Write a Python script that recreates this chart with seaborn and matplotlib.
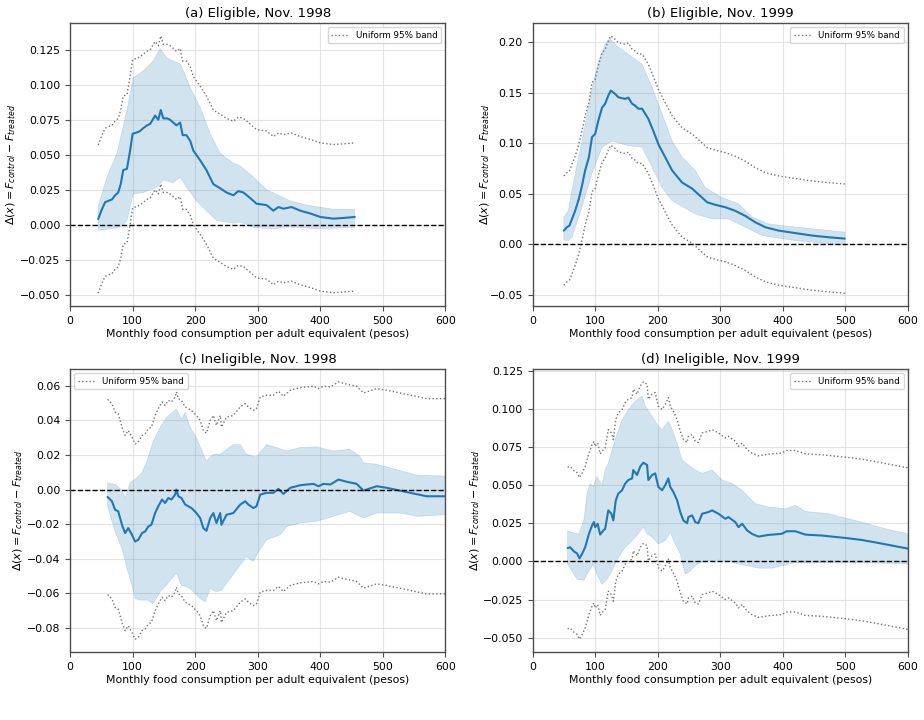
import numpy as np
import matplotlib
matplotlib.use("Agg")
import matplotlib.pyplot as plt
import seaborn as sns

# ---------------- data ----------------
titles = ["(a) Eligible, Nov. 1998", "(b) Eligible, Nov. 1999",
          "(c) Ineligible, Nov. 1998", "(d) Ineligible, Nov. 1999"]
legend_loc = ["upper right", "upper right", "upper left", "upper right"]
xlabel = "Monthly food consumption per adult equivalent (pesos)"
ylabel = r"$\Delta(x) = F_{control} - F_{treated}$"

# Panel (a)
a_x = [45, 50, 56, 61, 67, 72, 77, 81, 85, 91, 96, 100, 107, 112, 117, 123, 128, 136, 141, 145,
       149, 155, 160, 165, 170, 176, 180, 186, 192, 197, 208, 218, 229, 240, 250, 261, 269, 277, 288, 298,
       314, 325, 333, 341, 354, 368, 384, 400, 421, 437, 455]
a_y = [0.004, 0.010, 0.016, 0.017, 0.018, 0.021, 0.023, 0.029, 0.039, 0.040, 0.053, 0.065, 0.066, 0.067, 0.069, 0.071, 0.072, 0.078, 0.075, 0.082,
       0.076, 0.076, 0.075, 0.073, 0.071, 0.073, 0.064, 0.064, 0.060, 0.053, 0.046, 0.039, 0.029, 0.026, 0.023, 0.021, 0.024, 0.023, 0.019, 0.015,
       0.014, 0.010, 0.0126, 0.0114, 0.0126, 0.010, 0.008, 0.0055, 0.0043, 0.0048, 0.0055]
a_up_x = [45, 59, 75, 91, 101, 117, 133, 144, 155, 176, 181, 192, 208, 224, 240, 261, 272, 293, 314, 352, 378, 421, 455]
a_up_y = [0.013, 0.034, 0.051, 0.082, 0.105, 0.110, 0.117, 0.126, 0.119, 0.115, 0.110, 0.098, 0.084, 0.065, 0.051, 0.044, 0.042, 0.034, 0.025, 0.017, 0.014, 0.011, 0.011]
a_lo_x = [45, 64, 80, 91, 101, 117, 139, 149, 165, 176, 186, 202, 218, 234, 261, 272, 293, 325, 341, 367, 394, 455]
a_lo_y = [-0.004, -0.003, -0.002, 0.003, 0.022, 0.023, 0.027, 0.032, 0.030, 0.034, 0.027, 0.017, 0.010, 0.003, 0.001, 0.002, -0.002, -0.003, -0.002, -0.002, -0.003, -0.002]
a_uniform_hw = 0.053

# Panel (b)
b_x = [50, 55, 59, 63, 68, 74, 79, 84, 90, 95, 100, 105, 111, 116, 121, 125, 132, 137, 148, 153,
       159, 164, 169, 175, 180, 185, 193, 201, 212, 223, 239, 255, 271, 279, 292, 308, 324, 340, 356, 372,
       393, 420, 446, 473, 499]
b_y = [0.0135, 0.0168, 0.0185, 0.025, 0.033, 0.045, 0.058, 0.073, 0.086, 0.106, 0.109, 0.122, 0.135, 0.139, 0.147, 0.152, 0.1486, 0.1453, 0.1437, 0.145,
       0.139, 0.137, 0.134, 0.134, 0.129, 0.124, 0.112, 0.099, 0.086, 0.073, 0.061, 0.055, 0.046, 0.0415, 0.039, 0.0366, 0.033, 0.028, 0.0217, 0.0168,
       0.0135, 0.011, 0.0086, 0.0069, 0.0056]
b_up_x = [50, 57, 68, 79, 92, 105, 116, 124, 137, 153, 175, 191, 207, 223, 239, 260, 276, 303, 329, 351, 377, 420, 499]
b_up_y = [0.027, 0.033, 0.0695, 0.102, 0.145, 0.180, 0.198, 0.203, 0.195, 0.188, 0.178, 0.155, 0.129, 0.102, 0.086, 0.073, 0.056, 0.046, 0.040, 0.027, 0.020, 0.017, 0.012]
b_lo_x = [50, 57, 63, 79, 95, 111, 127, 153, 175, 191, 207, 223, 260, 287, 313, 340, 367, 420, 499]
b_lo_y = [0.004, 0.0036, 0.007, 0.037, 0.070, 0.096, 0.102, 0.0975, 0.096, 0.076, 0.056, 0.043, 0.030, 0.025, 0.025, 0.017, 0.0086, 0.0036, -0.001]
b_uniform_hw = 0.054

# Panel (c)
c_x = [60, 67, 72, 77, 83, 88, 93, 99, 104, 109, 115, 120, 125, 130, 136, 141, 147, 152, 157, 162,
       168, 170, 173, 178, 184, 189, 194, 202, 208, 213, 218, 224, 229, 234, 240, 242, 250, 261, 272, 280,
       285, 293, 298, 304, 314, 325, 333, 341, 352, 368, 389, 397, 405, 416, 429, 442, 458, 469, 490, 506,
       527, 549, 570, 600]
c_y = [-0.0043, -0.0068, -0.0117, -0.0126, -0.0204, -0.0252, -0.0223, -0.0262, -0.0301, -0.0291, -0.0252, -0.0243, -0.0214, -0.0204, -0.0136, -0.0097, -0.0058, -0.0078, -0.0049, -0.0058,
       -0.0029, 0.0000, -0.0039, -0.0049, -0.0087, -0.0097, -0.0107, -0.0136, -0.0165, -0.0223, -0.0239, -0.0165, -0.0136, -0.0194, -0.0136, -0.0204, -0.0146, -0.0136, -0.0087, -0.0068,
       -0.0087, -0.0107, -0.0097, -0.0029, -0.0019, -0.0019, 0.0004, -0.0025, 0.0010, 0.0025, 0.0033, 0.0019, 0.0033, 0.0029, 0.0058, 0.0045, 0.0033, -0.0006, 0.0019, 0.0010,
       -0.0006, -0.0023, -0.0039, -0.0039]
c_up_x = [60, 72, 83, 88, 96, 107, 115, 123, 133, 144, 154, 170, 178, 184, 192, 202, 213, 218, 229, 240,
          261, 272, 282, 298, 314, 330, 346, 368, 394, 421, 447, 463, 469, 490, 527, 554, 600]
c_up_y = [0.0039, 0.003, -0.0006, -0.005, 0.0039, 0.0068, 0.0097, 0.0165, 0.028, 0.036, 0.0417, 0.0466, 0.0408, 0.0447, 0.036, 0.030, 0.0204, 0.0165, 0.0204, 0.0204,
          0.026, 0.026, 0.0204, 0.0188, 0.026, 0.0243, 0.0223, 0.0243, 0.0247, 0.0223, 0.0233, 0.0194, 0.0155, 0.0146, 0.011, 0.0083, 0.0078]
c_lo_x = [60, 72, 83, 91, 99, 104, 112, 123, 133, 144, 154, 170, 178, 192, 208, 216, 224, 234, 242, 256,
          272, 282, 293, 301, 314, 336, 346, 368, 394, 421, 447, 469, 490, 527, 554, 600]
c_lo_y = [-0.0097, -0.0243, -0.034, -0.0456, -0.0553, -0.0631, -0.064, -0.064, -0.066, -0.0592, -0.0553, -0.0485, -0.0553, -0.0573, -0.0631, -0.065, -0.0573, -0.0592, -0.0583, -0.0515,
          -0.0437, -0.0388, -0.0417, -0.036, -0.0291, -0.0262, -0.0214, -0.0194, -0.0184, -0.0155, -0.0126, -0.0165, -0.0136, -0.0136, -0.0155, -0.0146]
c_uniform_hw = 0.0565

# Panel (d)
d_x = [56, 60, 66, 71, 75, 79, 84, 90, 95, 98, 100, 104, 108, 113, 116, 121, 126, 129, 133, 137,
       143, 148, 153, 159, 161, 167, 172, 177, 183, 185, 191, 196, 201, 207, 212, 217, 220, 225, 231, 236,
       241, 247, 249, 255, 260, 265, 271, 281, 287, 297, 308, 313, 324, 329, 335, 343, 351, 361, 377, 398,
       406, 420, 436, 462, 500, 526, 553, 600]
d_y = [0.0088, 0.0093, 0.0066, 0.0053, 0.0020, 0.0049, 0.0093, 0.0180, 0.0236, 0.0258, 0.0225, 0.0247, 0.0176, 0.0203, 0.0214, 0.0335, 0.0313, 0.0269, 0.0401, 0.0445,
       0.0467, 0.0511, 0.0534, 0.0545, 0.0600, 0.0567, 0.0622, 0.0648, 0.0633, 0.0534, 0.0567, 0.0578, 0.0489, 0.0467, 0.0500, 0.0545, 0.0489, 0.0456, 0.0401, 0.0324,
       0.0269, 0.0251, 0.0291, 0.0302, 0.0258, 0.0251, 0.0313, 0.0324, 0.0335, 0.0313, 0.0280, 0.0291, 0.0258, 0.0225, 0.0247, 0.0203, 0.0180, 0.0163, 0.0174, 0.0181,
       0.0198, 0.0198, 0.0176, 0.0170, 0.0154, 0.0141, 0.0121, 0.0084]
d_up_x = [56, 63, 74, 82, 87, 92, 97, 103, 111, 116, 121, 132, 143, 153, 164, 175, 180, 191, 201, 207,
          217, 223, 231, 239, 249, 260, 271, 287, 303, 319, 335, 345, 356, 377, 404, 420, 436, 473, 526, 564, 600]
d_up_y = [0.020, 0.019, 0.018, 0.027, 0.0445, 0.051, 0.049, 0.0556, 0.050, 0.060, 0.0644, 0.0798, 0.093, 0.0996, 0.105, 0.1085, 0.102, 0.0952, 0.0886, 0.0864,
          0.092, 0.0864, 0.0776, 0.0666, 0.0633, 0.060, 0.0578, 0.060, 0.0534, 0.0511, 0.0467, 0.0423, 0.0379, 0.0357, 0.0346, 0.0368, 0.0328, 0.0313, 0.0258, 0.0214, 0.0181]
d_lo_x = [56, 63, 71, 82, 90, 97, 103, 111, 119, 127, 137, 148, 159, 169, 177, 183, 191, 201, 212, 220,
          228, 236, 244, 252, 260, 268, 281, 297, 313, 329, 345, 361, 383, 398, 420, 446, 500, 553, 600]
d_lo_y = [-0.0018, -0.0062, -0.0117, -0.0123, -0.0062, -0.0018, -0.0084, -0.015, -0.0117, -0.0062, 0.0026, 0.0093, 0.0137, 0.0181, 0.0225, 0.0181, 0.0159, 0.0115, 0.0137, 0.0192,
          0.0115, 0.0049, -0.0084, -0.0062, -0.0029, -0.0007, 0.0004, 0.0009, 0.0004, -0.0018, -0.0029, -0.0044, -0.0044, -0.0029, -0.0007, -0.0011, -0.0007, -0.0011, -0.0018]
d_uniform_hw = 0.053

panels = [
    (a_x, a_y, a_up_x, a_up_y, a_lo_x, a_lo_y, a_uniform_hw),
    (b_x, b_y, b_up_x, b_up_y, b_lo_x, b_lo_y, b_uniform_hw),
    (c_x, c_y, c_up_x, c_up_y, c_lo_x, c_lo_y, c_uniform_hw),
    (d_x, d_y, d_up_x, d_up_y, d_lo_x, d_lo_y, d_uniform_hw),
]
# right edge of the (rotated) y label, in axes fraction
ylabel_x = [-0.139, -0.109, -0.121, -0.136]

# ---------------- plotting ----------------
sns.set_style("ticks")
plt.rcParams["font.family"] = ["DejaVu Sans"]
plt.rcParams["text.color"] = "black"
plt.rcParams["axes.labelcolor"] = "black"
plt.rcParams["xtick.color"] = "0.3"
plt.rcParams["ytick.color"] = "0.3"
plt.rcParams["xtick.labelcolor"] = "black"
plt.rcParams["ytick.labelcolor"] = "black"

fig, axes = plt.subplots(2, 2, figsize=(9.24, 7.2), dpi=100)
fig.subplots_adjust(left=0.0758, right=0.9827, top=0.968, bottom=0.0944,
                    wspace=0.232, hspace=0.2226)

blue = "#1f77b4"
for ax, title, loc, lx_pos, (x, y, ux, uy, lx, ly, hw) in zip(axes.flat, titles, legend_loc, ylabel_x, panels):
    x = np.asarray(x, float)
    y = np.asarray(y, float)
    poly_x = np.concatenate([np.asarray(ux, float), np.asarray(lx, float)[::-1]])
    poly_y = np.concatenate([np.asarray(uy, float), np.asarray(ly, float)[::-1]])
    ax.fill(poly_x, poly_y, color=blue, alpha=0.2, lw=0.5, edgecolor=blue)

    sns.lineplot(x=x, y=y + hw, ax=ax, color="0.45", lw=1.0, ls=":",
                 label="Uniform 95% band", sort=False)
    sns.lineplot(x=x, y=y - hw, ax=ax, color="0.45", lw=1.0, ls=":", sort=False)
    sns.lineplot(x=x, y=y, ax=ax, color=blue, lw=1.5, sort=False)
    ax.axhline(0, color="black", ls="--", lw=1.0)

    ax.set_xlim(0, 600)
    ax.set_xticks([0, 100, 200, 300, 400, 500, 600])
    ax.grid(True, color="0.85", lw=0.8, alpha=0.7)
    ax.set_title(title, fontsize=9.5, pad=4)
    ax.set_xlabel(xlabel, fontsize=7.8, labelpad=2)
    ax.set_ylabel(ylabel, fontsize=8)
    ax.yaxis.set_label_coords(lx_pos, 0.5)
    ax.tick_params(labelsize=7.8)
    for s in ax.spines.values():
        s.set_color("0.3")
        s.set_linewidth(1.0)
    leg = ax.legend(loc=loc, fontsize=6.3, frameon=True, handlelength=2)
    leg.get_frame().set_edgecolor("0.8")

fig.savefig("out.png", dpi=100)
